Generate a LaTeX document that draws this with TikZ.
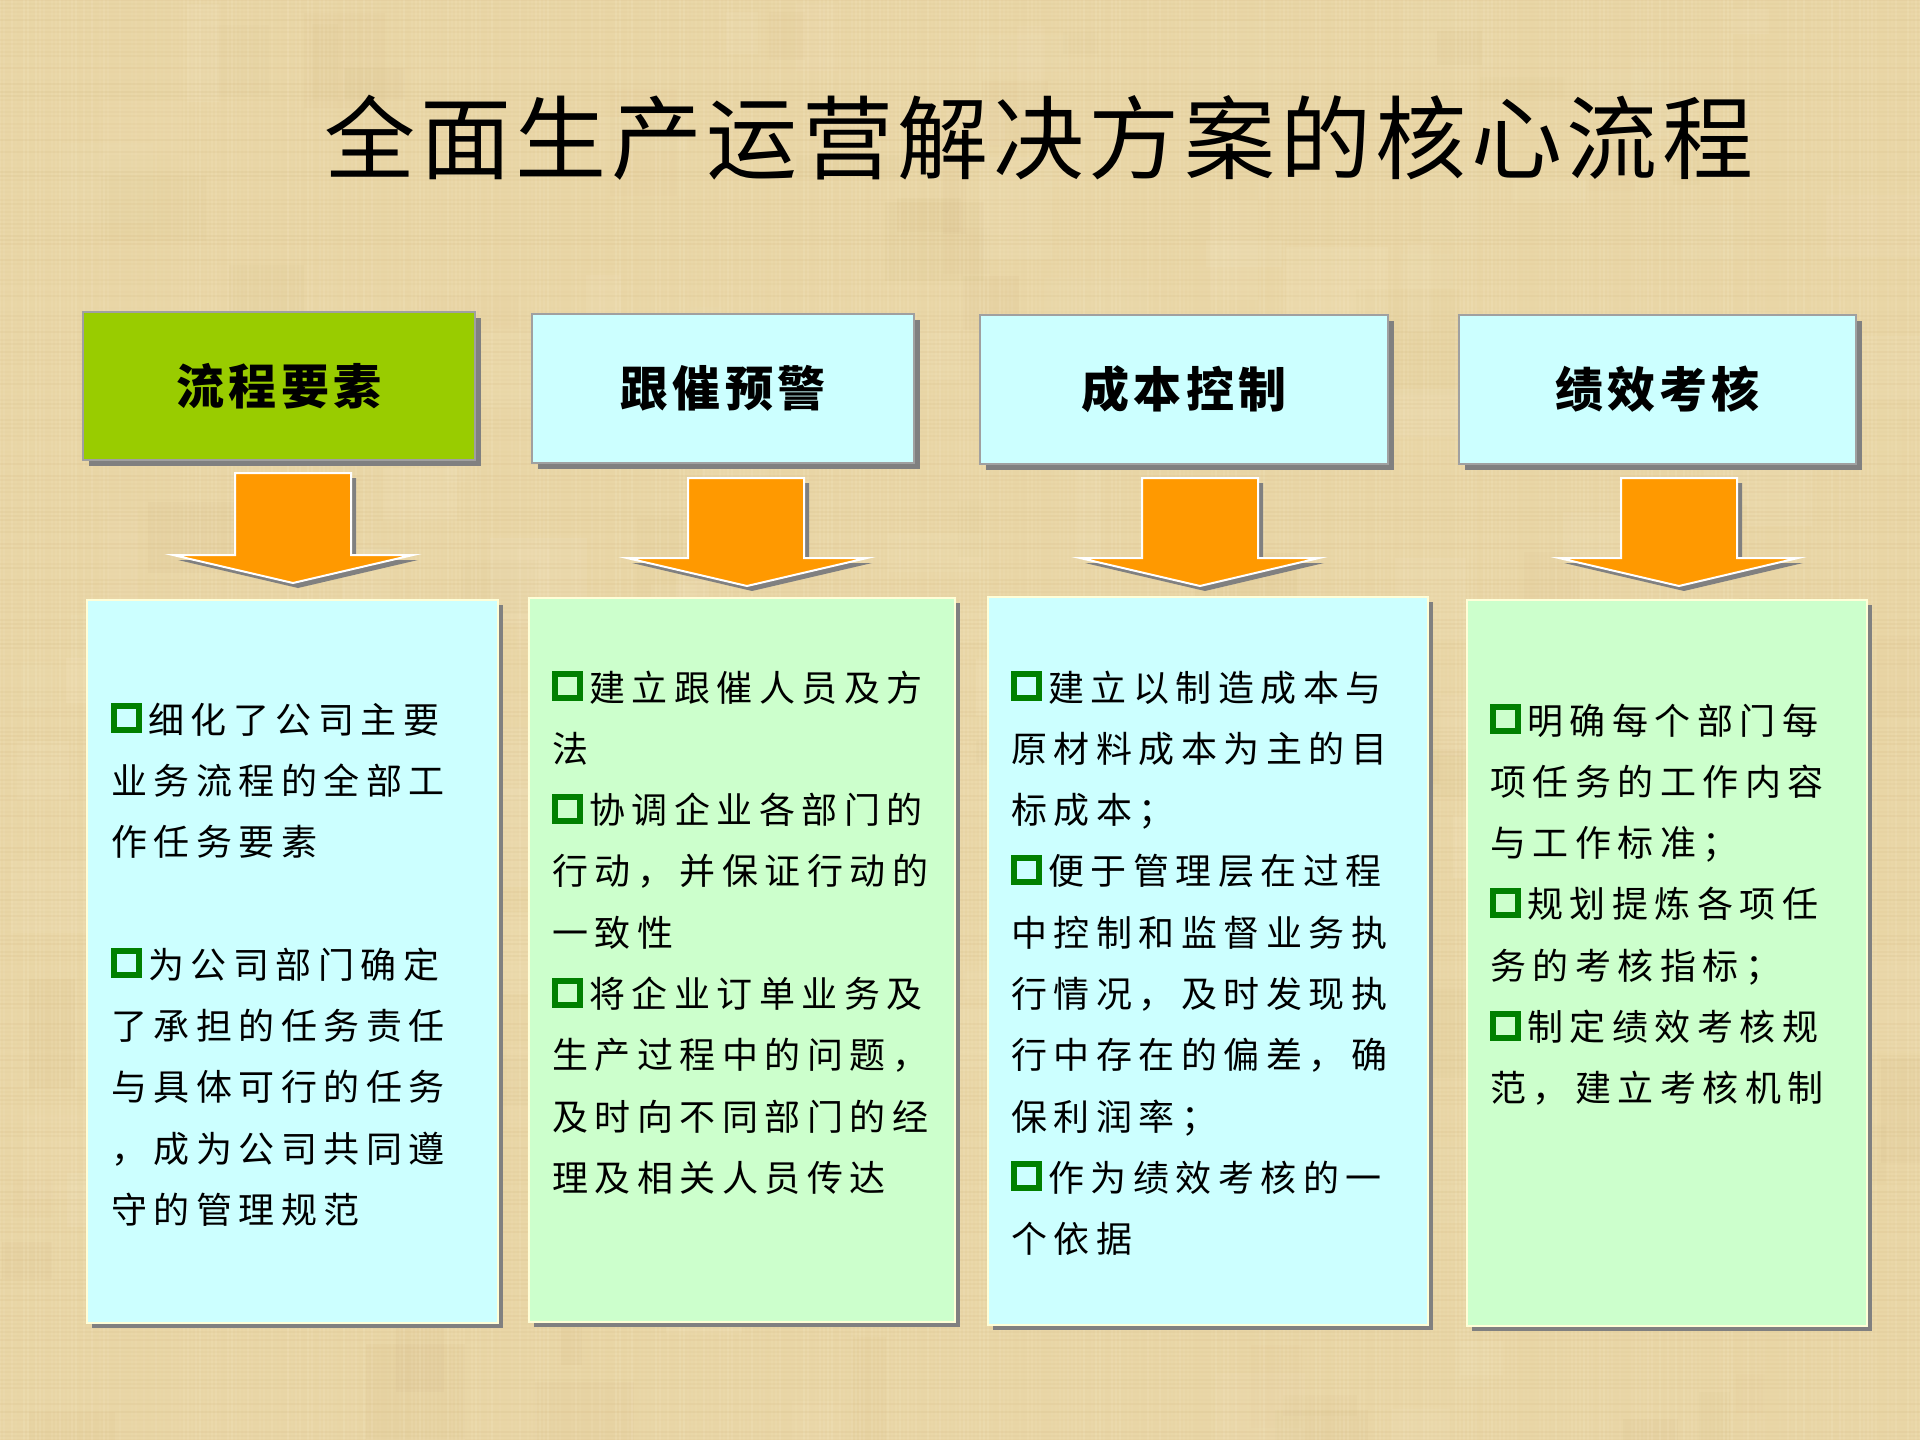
\documentclass[tikz,border=0pt]{standalone}
\usepackage{fontspec}
\setmainfont{Noto Sans CJK SC}
\newfontfamily\bodyfont[LetterSpace=18]{Noto Sans CJK SC}
\newfontfamily\headfont[LetterSpace=9]{Noto Sans CJK SC}
\newfontfamily\titlefont[LetterSpace=5]{Noto Sans CJK SC}
\usetikzlibrary{shadows}
\definecolor{bgtan}{HTML}{E9D6A6}
\definecolor{bglight}{HTML}{F5E8C6}
\definecolor{bgdark}{HTML}{CDB079}
\definecolor{hdrgreen}{HTML}{99CC00}
\definecolor{boxcyan}{HTML}{CCFFFF}
\definecolor{boxgreen}{HTML}{CCFFCC}
\definecolor{bordergray}{HTML}{A0A0A0}
\definecolor{shadowgray}{HTML}{808080}
\definecolor{arroworange}{HTML}{FF9900}
\definecolor{bulgreen}{HTML}{008000}
\definecolor{boxedge}{HTML}{FFFFD8}
\newcommand\bul[1]{\raisebox{6pt}{\setlength\fboxrule{6pt}\setlength\fboxsep{0pt}\fcolorbox{bulgreen}{#1}{\rule{0pt}{18pt}\rule{19pt}{0pt}}}\hspace{6pt}}
\newcommand\blockarrow[8]{%
  \fill[shadowgray, shift={(5,5)}] (#1,#3) -- (#2,#3) -- (#2,#4) -- (#6,#4) -- (#7,#8) -- (#5,#4) -- (#1,#4) -- cycle;
  \filldraw[arrowbody] (#1,#3) -- (#2,#3) -- (#2,#4) -- (#6,#4) -- (#7,#8) -- (#5,#4) -- (#1,#4) -- cycle;}
\tikzset{
  hdr/.style={draw=bordergray, line width=2pt, inner sep=0pt,
    drop shadow={shadow xshift=6pt, shadow yshift=-6pt, fill=shadowgray, opacity=1},
    font=\headfont\bfseries\fontsize{48pt}{52pt}\selectfont},
  txtbox/.style={draw=boxedge, line width=1.5pt, inner sep=0pt,
    drop shadow={shadow xshift=5pt, shadow yshift=-5pt, fill=shadowgray, opacity=1}},
  bodytext/.style={anchor=base west, inner sep=0pt,
    font=\bodyfont\fontsize{36pt}{61.3pt}\selectfont},
  titletext/.style={inner sep=0pt, font=\titlefont\fontsize{91pt}{100pt}\selectfont},
  arrowbody/.style={fill=arroworange, draw=white, line width=2pt, line join=miter}
}
\begin{document}
\begin{tikzpicture}[x=1pt,y=-1pt]
\useasboundingbox (0,0) rectangle (1920,1440);
% textured background
\fill[bgtan] (0,0) rectangle (1920,1440);
\pgfmathsetseed{11}
\foreach \k in {1,...,220}{
  \pgfmathsetmacro\px{rnd*1900}
  \pgfmathsetmacro\py{rnd*1420}
  \pgfmathsetmacro\pw{20+rnd*90}
  \pgfmathsetmacro\ph{20+rnd*90}
  \pgfmathsetmacro\po{0.06+rnd*0.12}
  \pgfmathsetmacro\pc{rnd}
  \ifdim\pc pt<0.55pt
    \fill[bglight, opacity=\po] (\px,\py) rectangle ++(\pw,\ph);
  \else
    \fill[bgdark, opacity=\po*0.5] (\px,\py) rectangle ++(\pw,\ph);
  \fi
}
\foreach \i in {0,4,...,1920}{
  \pgfmathsetmacro\o{rnd*0.25}
  \draw[bglight, opacity=\o, line width=1.6pt] (\i,0) -- (\i,1440);
}
\foreach \j in {0,4,...,1440}{
  \pgfmathsetmacro\o{rnd*0.15}
  \draw[bgdark, opacity=\o, line width=1.2pt] (0,\j) -- (1920,\j);
}

% title
\node[titletext] (title) at (1039,138) {全面生产运营解决方案的核心流程};

% headers
\node[hdr, fill=hdrgreen, minimum width=392pt, minimum height=148pt] (h1) at (279,386) {流程要素};
\node[hdr, fill=boxcyan, minimum width=382pt, minimum height=149pt] (h2) at (723,388.5) {跟催预警};
\node[hdr, fill=boxcyan, minimum width=408pt, minimum height=149pt] (h3) at (1184,389.5) {成本控制};
\node[hdr, fill=boxcyan, minimum width=397pt, minimum height=149pt] (h4) at (1657.5,389.5) {绩效考核};

% block arrows
\blockarrow{235}{351}{473}{555}{173}{413}{293}{583}
\blockarrow{688}{804}{478}{558}{627}{867}{747}{586}
\blockarrow{1142}{1258}{478}{558}{1080}{1319}{1200}{586}
\blockarrow{1621}{1737}{478}{558}{1559}{1798}{1679}{586}

% text boxes
\node[txtbox, fill=boxcyan, minimum width=411pt, minimum height=723pt] (b1) at (292.5,961.5) {};
\node[txtbox, fill=boxgreen, minimum width=426pt, minimum height=724pt] (b2) at (742,960) {};
\node[txtbox, fill=boxcyan, minimum width=440pt, minimum height=728pt] (b3) at (1208,961) {};
\node[txtbox, fill=boxgreen, minimum width=400pt, minimum height=726pt] (b4) at (1667,963) {};

\node[bodytext] (t1) at (111,733) {\parbox[t]{380pt}{\bul{boxcyan}细化了公司主要\\业务流程的全部工\\作任务要素\\~\\\bul{boxcyan}为公司部门确定\\了承担的任务责任\\与具体可行的任务\\，成为公司共同遵\\守的管理规范}};
\node[bodytext] (t2) at (552,701) {\parbox[t]{400pt}{\bul{boxgreen}建立跟催人员及方\\法\\\bul{boxgreen}协调企业各部门的\\行动，并保证行动的\\一致性\\\bul{boxgreen}将企业订单业务及\\生产过程中的问题，\\及时向不同部门的经\\理及相关人员传达}};
\node[bodytext] (t3) at (1011,701) {\parbox[t]{410pt}{\bul{boxcyan}建立以制造成本与\\原材料成本为主的目\\标成本；\\\bul{boxcyan}便于管理层在过程\\中控制和监督业务执\\行情况，及时发现执\\行中存在的偏差，确\\保利润率；\\\bul{boxcyan}作为绩效考核的一\\个依据}};
\node[bodytext] (t4) at (1490,734) {\parbox[t]{370pt}{\bul{boxgreen}明确每个部门每\\项任务的工作内容\\与工作标准；\\\bul{boxgreen}规划提炼各项任\\务的考核指标；\\\bul{boxgreen}制定绩效考核规\\范，建立考核机制}};
\end{tikzpicture}
\end{document}
